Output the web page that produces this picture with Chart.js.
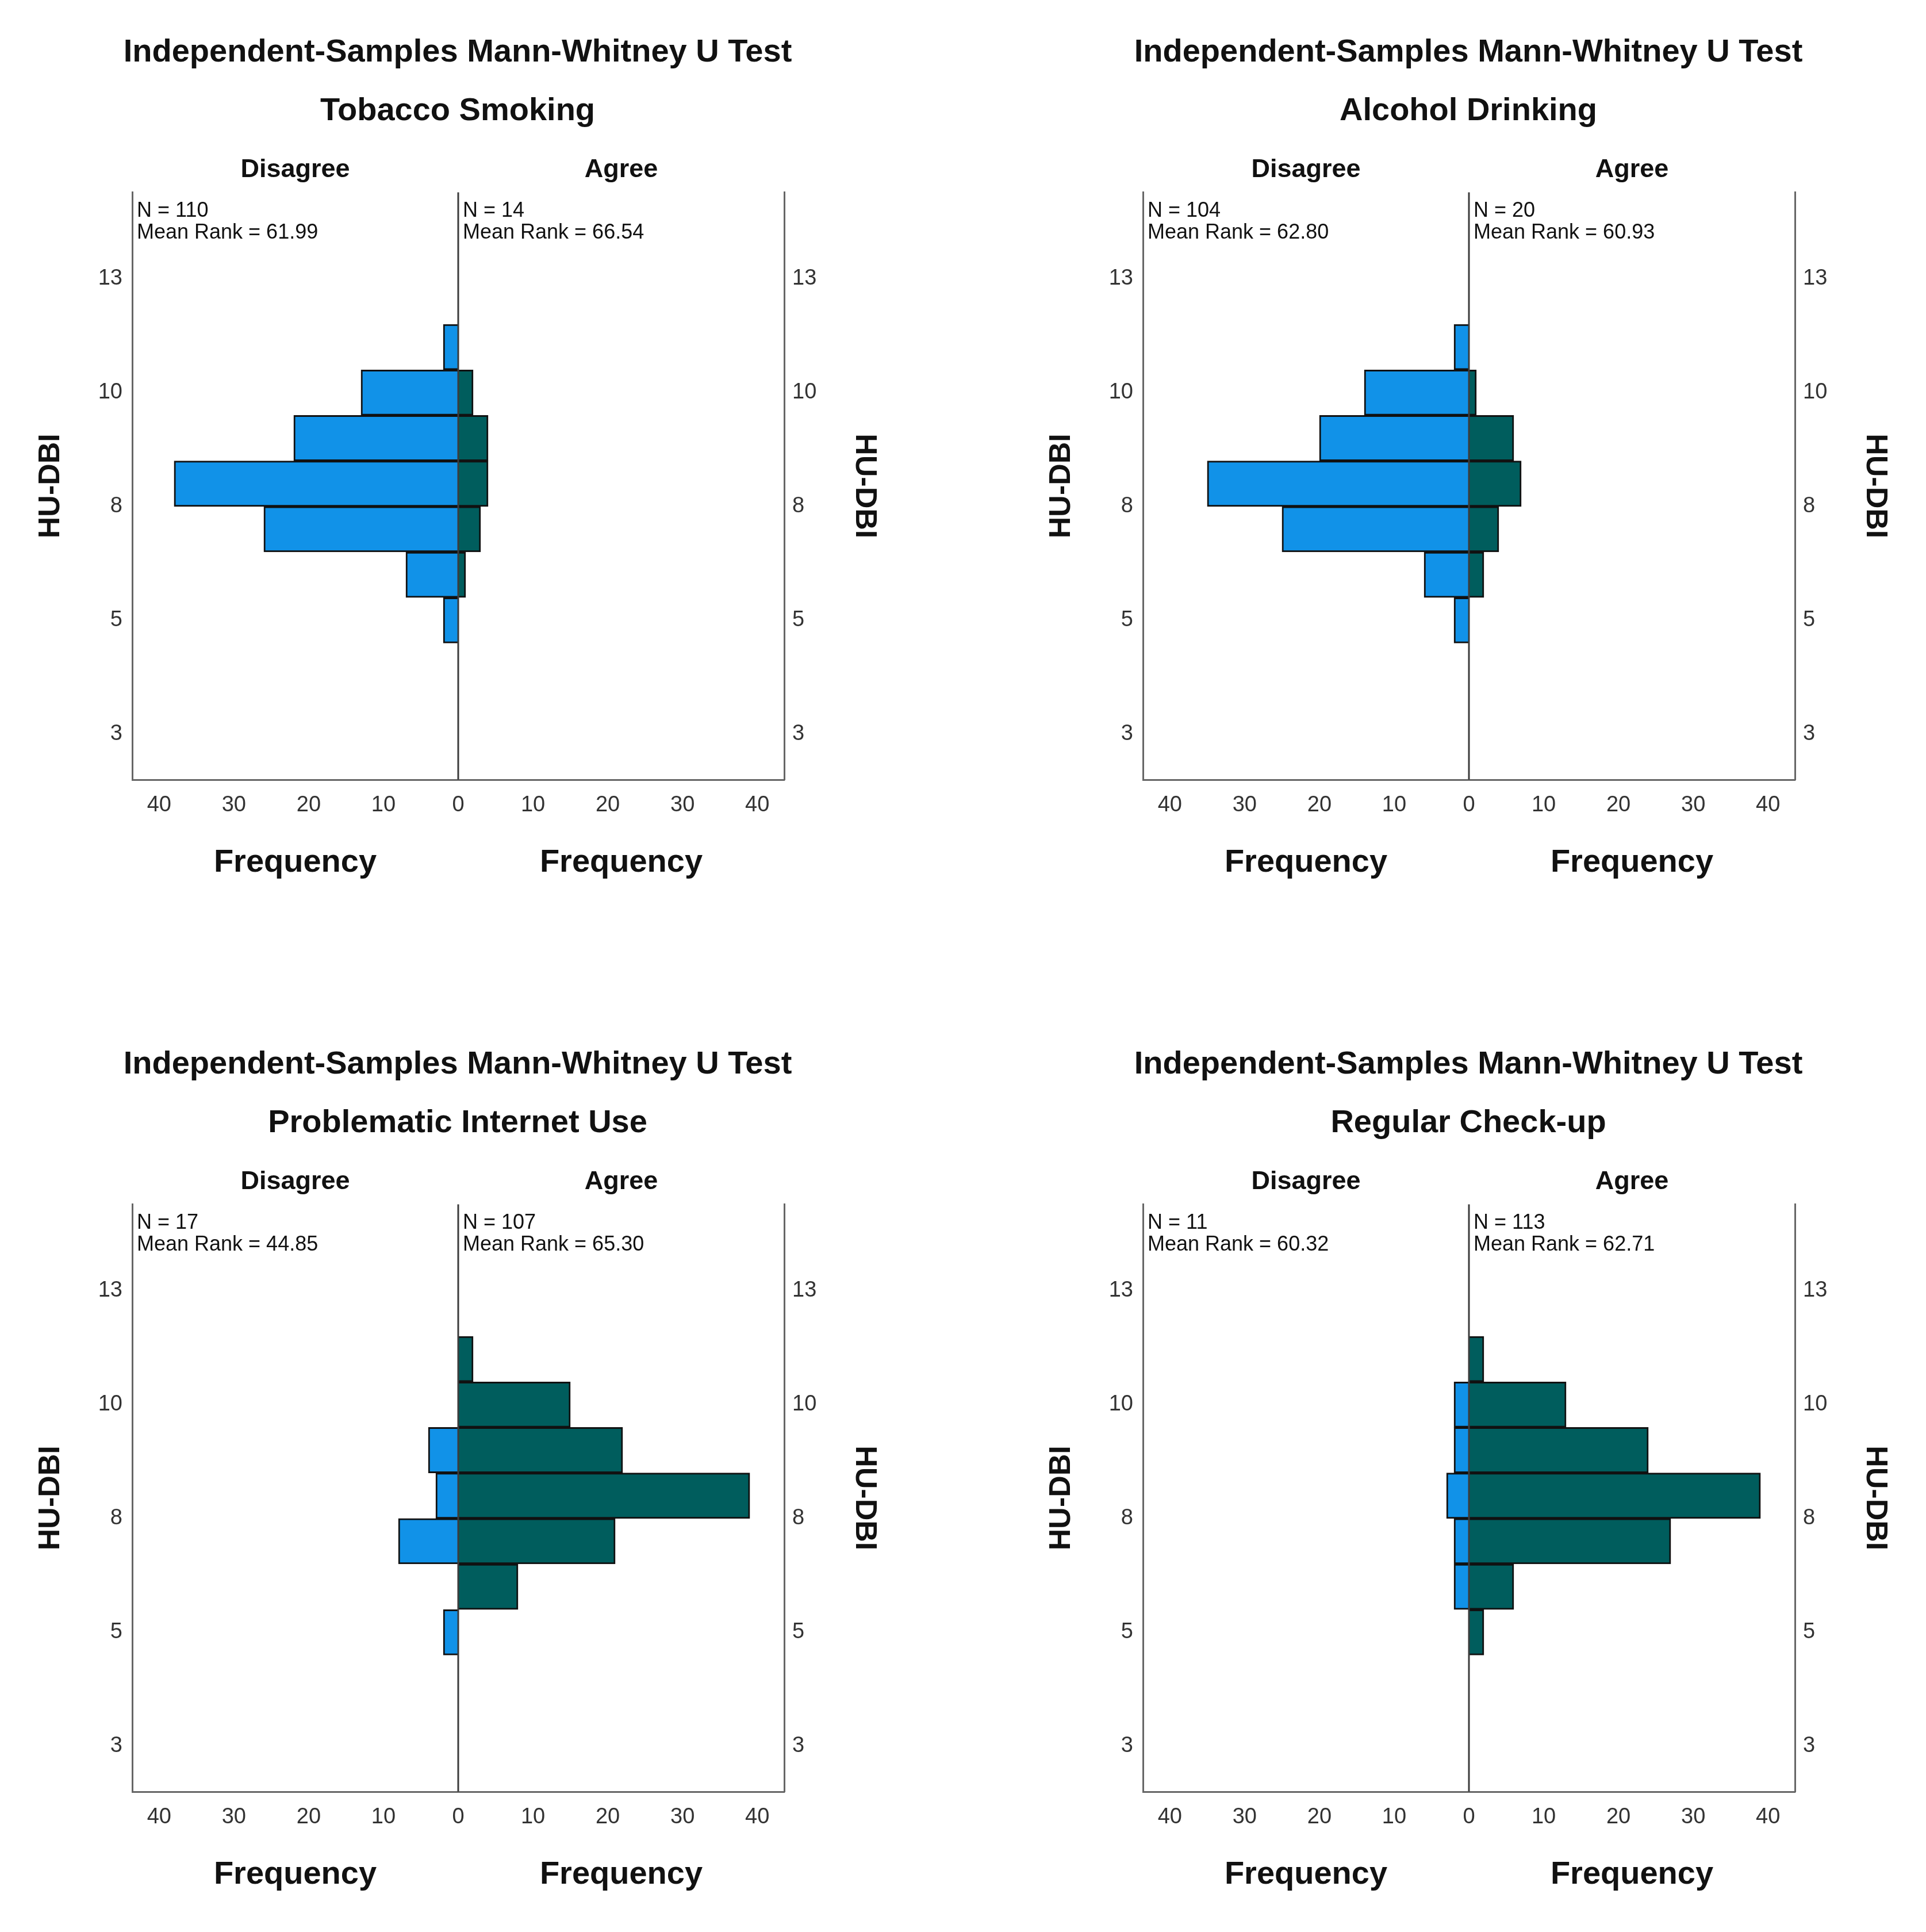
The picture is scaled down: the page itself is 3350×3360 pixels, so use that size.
<!DOCTYPE html>
<html>
<head>
<meta charset="utf-8">
<script src="https://cdn.jsdelivr.net/npm/chart.js@4.4.1/dist/chart.umd.min.js"></script>
<style>
  html, body { margin: 0; padding: 0; background: #fff; }
  .panel { position: absolute; width: 1592px; height: 1600px; }
</style>
</head>
<body>
<div class="panel" style="left:0;top:0"><canvas id="c0"></canvas></div>
<div class="panel" style="left:1758px;top:0"><canvas id="c1"></canvas></div>
<div class="panel" style="left:0;top:1760px"><canvas id="c2"></canvas></div>
<div class="panel" style="left:1758px;top:1760px"><canvas id="c3"></canvas></div>
<script>
// Mann-Whitney U population pyramids, one chart per question.
const testTitle = "Independent-Samples Mann-Whitney U Test";
const panelNames = ["Tobacco Smoking", "Alcohol Drinking", "Problematic Internet Use", "Regular Check-up"];
const groupNames = ["Disagree", "Agree"];
const hudbiBins = [5, 6, 7, 8, 9, 10, 11];

// counts per bin (bins 5..11)
const tobaccoDisagree = [2, 7, 26, 38, 22, 13, 2];
const tobaccoAgree = [0, 1, 3, 4, 4, 2, 0];
const alcoholDisagree = [2, 6, 25, 35, 20, 14, 2];
const alcoholAgree = [0, 2, 4, 7, 6, 1, 0];
const internetDisagree = [2, 0, 8, 3, 4, 0, 0];
const internetAgree = [0, 8, 21, 39, 22, 15, 2];
const checkupDisagree = [0, 2, 2, 3, 2, 2, 0];
const checkupAgree = [2, 6, 27, 39, 24, 13, 2];

const nDisagree = [110, 104, 17, 11];
const nAgree = [14, 20, 107, 113];
const rankDisagree = ["61.99", "62.80", "44.85", "60.32"];
const rankAgree = ["66.54", "60.93", "65.30", "62.71"];

const yTickValues = [2.5, 5, 7.5, 10, 12.5];
const yTickLabels = ["3", "5", "8", "10", "13"];
const xTickValues = [-40, -30, -20, -10, 0, 10, 20, 30, 40];

const disagreeSets = [tobaccoDisagree, alcoholDisagree, internetDisagree, checkupDisagree];
const agreeSets = [tobaccoAgree, alcoholAgree, internetAgree, checkupAgree];

const FONT = "'Liberation Sans', Arial, sans-serif";
const BLUE = "#1192e8";
const TEAL = "#005d5d";

// centre line, group headings, "Frequency" labels and the N / mean rank notes
const mwText = {
  id: "mwText",
  afterDatasetsDraw(chart, args, opts) {
    const { ctx, chartArea: a, scales } = chart;
    const x0 = scales.x.getPixelForValue(0);
    ctx.save();
    ctx.strokeStyle = "#3c3c3c";
    ctx.lineWidth = 3;
    ctx.beginPath();
    ctx.moveTo(x0, a.top);
    ctx.lineTo(x0, a.bottom);
    ctx.stroke();

    const mids = [(a.left + x0) / 2, (x0 + a.right) / 2];
    ctx.fillStyle = "#111";
    ctx.textAlign = "center";
    ctx.textBaseline = "middle";
    ctx.font = `bold 45px ${FONT}`;
    groupNames.forEach((g, i) => ctx.fillText(g, mids[i], a.top - 39));
    ctx.font = `bold 56px ${FONT}`;
    mids.forEach((m) => ctx.fillText("Frequency", m, a.bottom + 145));

    ctx.textAlign = "left";
    ctx.font = `36px ${FONT}`;
    [a.left, x0].forEach((lx, i) => {
      ctx.fillText(`N = ${opts.n[i]}`, lx + 8, a.top + 33);
      ctx.fillText(`Mean Rank = ${opts.rank[i]}`, lx + 8, a.top + 71);
    });
    ctx.restore();
  },
};

function binPoints(counts, sign) {
  return hudbiBins.map((b, i) => ({ y: b, x: counts[i] ? sign * counts[i] : null }));
}

function yAxis(position, width) {
  return {
    type: "linear",
    position,
    min: 1.5,
    max: 14.4,
    offset: false,
    stacked: true,
    grid: { display: false, drawTicks: false },
    border: { display: true, color: "#666", width: 3 },
    afterBuildTicks: (s) => { s.ticks = yTickValues.map((v) => ({ value: v })); },
    afterFit: (s) => { s.width = width; },
    ticks: {
      padding: position === "left" ? 17 : 14,
      color: "#333",
      font: { family: FONT, size: 38 },
      callback: (v) => yTickLabels[yTickValues.indexOf(v)],
    },
    title: {
      display: true,
      text: "HU-DBI",
      color: "#111",
      font: { family: FONT, size: 52, weight: "bold" },
      padding: { top: 57, bottom: 0 },
    },
  };
}

panelNames.forEach((name, p) => {
  new Chart(document.getElementById("c" + p), {
    type: "bar",
    data: {
      datasets: [
        {
          label: groupNames[0],
          data: binPoints(disagreeSets[p], -1),
          backgroundColor: BLUE,
          borderColor: "#111",
          borderWidth: 3,
          barPercentage: 1,
          categoryPercentage: 1,
        },
        {
          label: groupNames[1],
          data: binPoints(agreeSets[p], 1),
          backgroundColor: TEAL,
          borderColor: "#111",
          borderWidth: 3,
          barPercentage: 1,
          categoryPercentage: 1,
        },
      ],
    },
    options: {
      indexAxis: "y",
      responsive: true,
      maintainAspectRatio: false,
      devicePixelRatio: 1,
      animation: false,
      layout: { padding: 0 },
      scales: {
        x: {
          type: "linear",
          min: -43.6,
          max: 43.6,
          stacked: true,
          grid: { display: false, drawTicks: false },
          border: { display: true, color: "#666", width: 3 },
          afterBuildTicks: (s) => { s.ticks = xTickValues.map((v) => ({ value: v })); },
          afterFit: (s) => { s.height = 244; },
          ticks: {
            padding: 22,
            autoSkip: false,
            maxRotation: 0,
            color: "#333",
            font: { family: FONT, size: 38 },
            callback: (v) => String(Math.abs(v)),
          },
        },
        y: yAxis("left", 230),
        y2: yAxis("right", 228),
      },
      plugins: {
        legend: { display: false },
        tooltip: { enabled: false },
        title: {
          display: true,
          text: testTitle,
          color: "#111",
          font: { family: FONT, size: 56, weight: "bold" },
          padding: { top: 58, bottom: 0 },
        },
        subtitle: {
          display: true,
          text: name,
          color: "#111",
          font: { family: FONT, size: 56, weight: "bold" },
          padding: { top: 35, bottom: 107 },
        },
        mwText: { n: [nDisagree[p], nAgree[p]], rank: [rankDisagree[p], rankAgree[p]] },
      },
    },
    plugins: [mwText],
  });
});
</script>
</body>
</html>
